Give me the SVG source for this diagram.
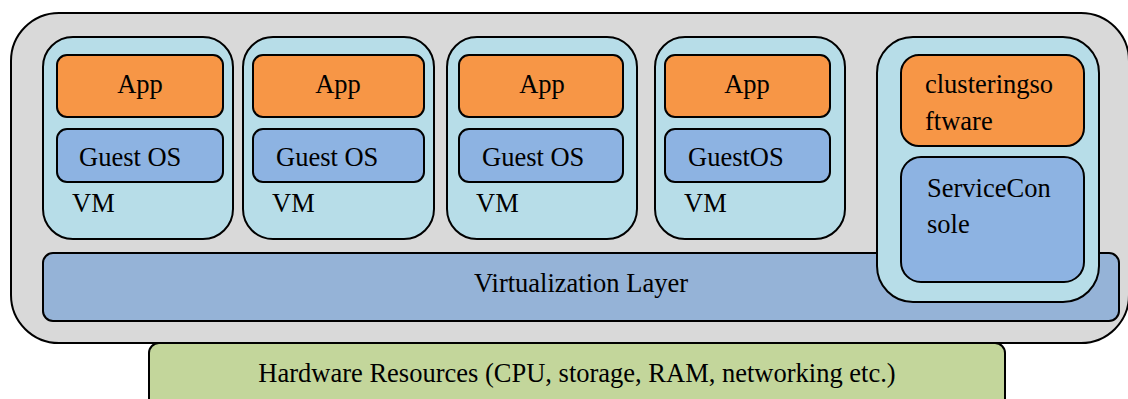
<svg xmlns="http://www.w3.org/2000/svg" width="1128" height="399" viewBox="0 0 1128 399">
  <style>
    .box { stroke: #000; stroke-width: 2; }
    .host { fill: #d9d9d9; }
    .vm { fill: #b7dde8; }
    .app { fill: #f79646; }
    .os { fill: #8db3e2; }
    .virt { fill: #95b3d7; }
    .hw { fill: #c3d69b; }
    .t { font-family: 'Liberation Serif', 'Tinos', 'Times New Roman', 'DejaVu Serif', serif; font-size: 26.5px; fill: #000; }
    .mid { text-anchor: middle; }
  </style>

  <!-- host server -->
  <g id="host">
    <rect class="box host" x="11" y="13" width="1118" height="330" rx="48"/>
  </g>

  <!-- hypervisor -->
  <g id="virtualization-layer">
    <rect class="box virt" x="43" y="253" width="1076" height="68" rx="10"/>
    <text class="t mid" x="581" y="292">Virtualization Layer</text>
  </g>

  <!-- guest machines -->
  <g id="vm1">
    <rect class="box vm" x="43" y="37" width="190" height="202" rx="30"/>
    <rect class="box app" x="57" y="55" width="166" height="62" rx="10"/>
    <text class="t mid" x="140" y="93">App</text>
    <rect class="box os" x="57" y="129" width="166" height="53" rx="10"/>
    <text class="t" x="79" y="166">Guest OS</text>
    <text class="t" x="72" y="212">VM</text>
  </g>

  <g id="vm2">
    <rect class="box vm" x="243" y="37" width="191" height="202" rx="30"/>
    <rect class="box app" x="253" y="55" width="171" height="62" rx="10"/>
    <text class="t mid" x="338" y="93">App</text>
    <rect class="box os" x="253" y="129" width="171" height="53" rx="10"/>
    <text class="t" x="276" y="166">Guest OS</text>
    <text class="t" x="272" y="212">VM</text>
  </g>

  <g id="vm3">
    <rect class="box vm" x="447" y="37" width="190" height="202" rx="30"/>
    <rect class="box app" x="459" y="55" width="164" height="62" rx="10"/>
    <text class="t mid" x="542" y="93">App</text>
    <rect class="box os" x="459" y="129" width="164" height="53" rx="10"/>
    <text class="t" x="482" y="166">Guest OS</text>
    <text class="t" x="476" y="212">VM</text>
  </g>

  <g id="vm4">
    <rect class="box vm" x="655" y="37" width="190" height="202" rx="30"/>
    <rect class="box app" x="665" y="55" width="165" height="62" rx="10"/>
    <text class="t mid" x="747" y="93">App</text>
    <rect class="box os" x="665" y="129" width="165" height="53" rx="10"/>
    <text class="t" x="688" y="166">GuestOS</text>
    <text class="t" x="684" y="212">VM</text>
  </g>

  <!-- service console partition -->
  <g id="console-vm">
    <rect class="box vm" x="877" y="37" width="222" height="265" rx="36"/>
    <rect class="box app" x="901" y="55" width="183" height="91" rx="18"/>
    <text class="t" x="925" y="93">clusteringso</text>
    <text class="t" x="925" y="130">ftware</text>
    <rect class="box os" x="901" y="157" width="183" height="125" rx="20"/>
    <text class="t" x="927" y="197">ServiceCon</text>
    <text class="t" x="927" y="233">sole</text>
  </g>

  <!-- physical hardware -->
  <g id="hardware">
    <rect class="box hw" x="149" y="343" width="856" height="80" rx="10"/>
    <text class="t mid" x="577" y="382">Hardware Resources (CPU, storage, RAM, networking etc.)</text>
  </g>

  <g id="connectors"></g>
</svg>
